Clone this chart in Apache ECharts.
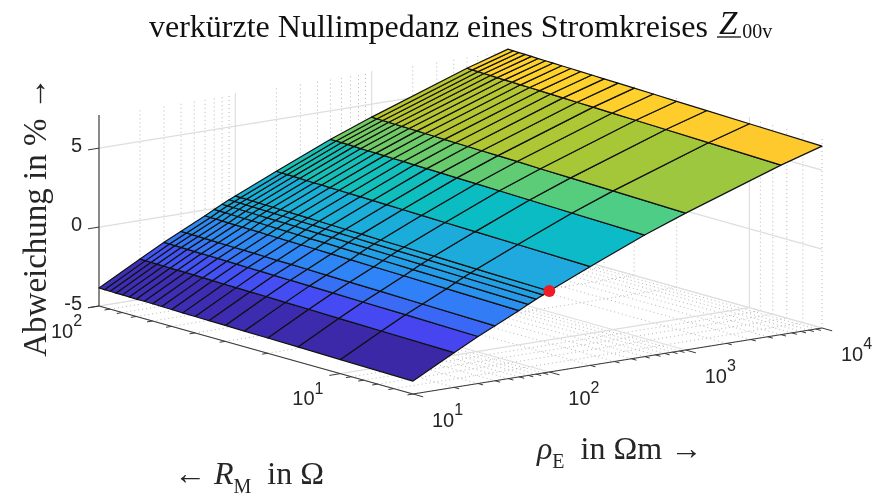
<!DOCTYPE html>
<html><head><meta charset="utf-8">
<style>html,body{margin:0;padding:0;background:#fff}#c{width:879px;height:495px}</style>
<script src="https://cdn.jsdelivr.net/npm/echarts@6/dist/echarts.min.js"></script>
</head><body><div id="c"></div>
<script>
// ---- data ----
const rhoValues = [10,20,30,40,60,70,80,90,100,200,500,1000,5000,10000];
const rmValues = [5,10,15,20,25,30,35,40,45,50,55,60,65,70,75,80,85,90,95,100];
const zTable = [
 [-4.18,-4.11,-4.06,-4.03,-4.01,-3.99,-3.97,-3.96,-3.95,-3.93,-3.92,-3.91,-3.90,-3.90,-3.89,-3.88,-3.88,-3.87,-3.87,-3.86],
 [-2.80,-2.72,-2.67,-2.63,-2.61,-2.58,-2.57,-2.55,-2.54,-2.52,-2.51,-2.50,-2.49,-2.48,-2.48,-2.47,-2.46,-2.45,-2.45,-2.44],
 [-2.02,-1.93,-1.88,-1.84,-1.81,-1.79,-1.77,-1.75,-1.74,-1.72,-1.71,-1.70,-1.68,-1.68,-1.67,-1.66,-1.65,-1.64,-1.64,-1.63],
 [-1.52,-1.43,-1.37,-1.33,-1.30,-1.27,-1.25,-1.24,-1.22,-1.20,-1.19,-1.18,-1.17,-1.16,-1.15,-1.14,-1.13,-1.12,-1.12,-1.11],
 [-0.80,-0.70,-0.64,-0.60,-0.57,-0.54,-0.52,-0.50,-0.49,-0.47,-0.46,-0.44,-0.43,-0.42,-0.41,-0.40,-0.39,-0.38,-0.38,-0.37],
 [-0.50,-0.40,-0.34,-0.30,-0.26,-0.24,-0.21,-0.20,-0.18,-0.16,-0.15,-0.13,-0.12,-0.11,-0.10,-0.09,-0.08,-0.07,-0.07,-0.06],
 [-0.25,-0.15,-0.09,-0.05,-0.01,0.01,0.04,0.05,0.07,0.09,0.10,0.12,0.13,0.14,0.15,0.16,0.17,0.18,0.18,0.19],
 [-0.05,0.05,0.12,0.16,0.19,0.22,0.24,0.26,0.28,0.30,0.31,0.32,0.34,0.35,0.36,0.37,0.38,0.39,0.39,0.40],
 [0.13,0.23,0.30,0.34,0.37,0.40,0.42,0.44,0.46,0.48,0.49,0.50,0.52,0.53,0.54,0.55,0.56,0.57,0.57,0.58],
 [1.26,1.37,1.43,1.47,1.51,1.54,1.56,1.58,1.60,1.61,1.63,1.64,1.66,1.66,1.67,1.69,1.70,1.71,1.71,1.72],
 [2.70,2.81,2.88,2.93,2.96,2.99,3.02,3.04,3.06,3.08,3.09,3.11,3.12,3.13,3.14,3.16,3.17,3.18,3.18,3.19],
 [3.67,3.79,3.86,3.90,3.95,3.98,4.00,4.02,4.04,4.06,4.08,4.09,4.11,4.12,4.13,4.14,4.15,4.16,4.17,4.18],
 [5.74,5.87,5.95,6.00,6.04,6.08,6.10,6.13,6.15,6.17,6.19,6.20,6.22,6.23,6.24,6.26,6.27,6.28,6.29,6.30],
 [6.52,6.65,6.73,6.78,6.83,6.86,6.89,6.91,6.94,6.96,6.98,6.99,7.01,7.02,7.03,7.05,7.06,7.07,7.08,7.09]
];
const markerPoint = [100, 5, 0.13];
const rhoMajorTicks = [10,100,1000,10000];
const rhoMinorTicks = [20,30,40,50,60,70,80,90,200,300,400,500,600,700,800,900,2000,3000,4000,5000,6000,7000,8000,9000];
const rmMajorTicks = [10,100];
const rmMinorTicks = [5,6,7,8,9,20,30,40,50,60,70,80,90];
const zTicks = [-5,0,5];
const rhoRange = [10,10000], rmRange = [5,100], zRange = [-5,7.1];
const colorRange = [-4.18,7.09];
const parulaPos = [0,0.125,0.25,0.38,0.5,0.61,0.7,0.75,0.88,0.93,1];
const parulaCol = ['#3B28A6','#4746F2','#2F84F7','#1FA9DF','#0ABDC3','#4DCD85','#9FC73C','#BFC62B','#FEC92C','#FFD42A','#F9FB15'];

// ---- oblique view of the box (orthographic camera) ----
const VIEW = {origin:[413,394], u:[409,-66], v:[-314,-88], w:[0,-191]};
const GW = 879, GH = 495;
function project(api, rho, rm, z){
  const p = api.coord([rho, rm]);
  const u = p[0]/GW, v = (GH-p[1])/GH;
  const w = echarts.number.linearMap(z, zRange, [0,1], false);
  return [VIEW.origin[0]+u*VIEW.u[0]+v*VIEW.v[0]+w*VIEW.w[0],
          VIEW.origin[1]+u*VIEW.u[1]+v*VIEW.v[1]+w*VIEW.w[1]];
}
function parula(z){
  const t = Math.max(0,Math.min(1,(z-colorRange[0])/(colorRange[1]-colorRange[0])));
  let i = 0;
  while(i<parulaPos.length-2 && t>parulaPos[i+1]) i++;
  return echarts.color.lerp((t-parulaPos[i])/(parulaPos[i+1]-parulaPos[i]),[parulaCol[i],parulaCol[i+1]]);
}
const [rhoLo,rhoHi]=rhoRange,[rmLo,rmHi]=rmRange,[zLo,zHi]=zRange;

// segments: [rho1,rm1,z1,rho2,rm2,z2]
const majorSegs=[], minorSegs=[];
rhoMajorTicks.forEach(r=>{ majorSegs.push([r,rmLo,zLo,r,rmHi,zLo]); majorSegs.push([r,rmHi,zLo,r,rmHi,zHi]); });
rmMajorTicks.forEach(m=>{ majorSegs.push([rhoLo,m,zLo,rhoHi,m,zLo]); majorSegs.push([rhoHi,m,zLo,rhoHi,m,zHi]); });
zTicks.forEach(z=>{ majorSegs.push([rhoLo,rmHi,z,rhoHi,rmHi,z]); majorSegs.push([rhoHi,rmHi,z,rhoHi,rmLo,z]); });
rhoMinorTicks.forEach(r=>{ minorSegs.push([r,rmLo,zLo,r,rmHi,zLo]); minorSegs.push([r,rmHi,zLo,r,rmHi,zHi]); });
rmMinorTicks.forEach(m=>{ minorSegs.push([rhoLo,m,zLo,rhoHi,m,zLo]); minorSegs.push([rhoHi,m,zLo,rhoHi,m,zHi]); });
const axisSegs=[[rhoLo,rmLo,zLo,rhoHi,rmLo,zLo],[rhoLo,rmLo,zLo,rhoLo,rmHi,zLo],[rhoLo,rmHi,zLo,rhoLo,rmHi,zHi]];

const cells=[];
for(let i=0;i<rhoValues.length-1;i++)for(let j=0;j<rmValues.length-1;j++){
  cells.push([rhoValues[i],rmValues[j],rhoValues[i+1],rmValues[j+1],zTable[i][j],zTable[i+1][j],zTable[i+1][j+1],zTable[i][j+1]]);
}
function segSeries(name,data,style,z){
  return {name,type:'custom',coordinateSystem:'cartesian2d',clip:false,silent:true,z,data,encode:{x:0,y:1},
    renderItem(p,api){
      const a=project(api,api.value(0),api.value(1),api.value(2));
      const b=project(api,api.value(3),api.value(4),api.value(5));
      return {type:'line',shape:{x1:a[0],y1:a[1],x2:b[0],y2:b[1]},style};
    }};
}
const TICK=0.027;
const tickData=[];
rhoMajorTicks.forEach(r=>tickData.push([r,rmLo,zLo,0,1]));
rhoMinorTicks.forEach(r=>tickData.push([r,rmLo,zLo,0,.5]));
rmMajorTicks.forEach(m=>tickData.push([rhoLo,m,zLo,1,1]));
rmMinorTicks.forEach(m=>tickData.push([rhoLo,m,zLo,1,.5]));
zTicks.forEach(z=>tickData.push([rhoLo,rmHi,z,1,1]));

const texCol='#262626';
function labelRich(){return {b:{fontSize:20,lineHeight:28,verticalAlign:'bottom',fill:texCol,fontFamily:'"Liberation Sans"'},
  s:{fontSize:16,lineHeight:16,verticalAlign:'top',fill:texCol,fontFamily:'"Liberation Sans"'}};}
const expo=v=>Math.round(Math.log10(v));
const labelData=[];
rhoMajorTicks.forEach(r=>labelData.push([r,rmLo,zLo,19,9,'{b|10}{s|'+expo(r)+'}']));
rmMajorTicks.forEach(m=>labelData.push([rhoLo,m,zLo,-48,8,'{b|10}{s|'+expo(m)+'}']));
const SERIF='"Liberation Serif"';
const mathRich=(size,sub,col)=>({
  n:{fontSize:size,lineHeight:size+6,verticalAlign:'top',fontFamily:SERIF,fill:col},
  i:{fontSize:size,lineHeight:size+6,verticalAlign:'top',fontStyle:'italic',fontFamily:SERIF,fill:col},
  s:{fontSize:sub,lineHeight:sub,verticalAlign:'bottom',fontFamily:SERIF,fill:col}});
const titleRich=mathRich(32,20,'#111');
titleRich.i={fontSize:33,lineHeight:38,verticalAlign:'top',fontStyle:'italic',fontFamily:SERIF,fill:'#111',padding:[4,5,0,3]};
titleRich.n.lineHeight=38; titleRich.n.padding=[8,0,0,0];

const option={
  animation:false,backgroundColor:'#fff',
  grid:{left:0,top:0,width:GW,height:GH},
  xAxis:{type:'log',min:rhoLo,max:rhoHi,show:false},
  yAxis:{type:'log',min:rmLo,max:rmHi,show:false},
  series:[
    segSeries('minor grid',minorSegs,{stroke:'#b8b8b8',lineWidth:1,lineDash:[1,3],fill:null},1),
    segSeries('major grid',majorSegs,{stroke:'#dedede',lineWidth:1.2,fill:null},2),
    segSeries('axes',axisSegs,{stroke:'#3a3a3a',lineWidth:1.1,fill:null},3),
    {name:'ticks',type:'custom',coordinateSystem:'cartesian2d',clip:false,silent:true,z:3,data:tickData,encode:{x:0,y:1},
     renderItem(p,api){
       const a=project(api,api.value(0),api.value(1),api.value(2));
       const k=api.value(4)*TICK;
       const d=api.value(3)===0?[-VIEW.v[0]*k*1.2,-VIEW.v[1]*k*1.2]:[-VIEW.u[0]*k,-VIEW.u[1]*k];
       return {type:'line',shape:{x1:a[0],y1:a[1],x2:a[0]+d[0],y2:a[1]+d[1]},style:{stroke:'#3a3a3a',lineWidth:1}};
     }},
    {name:'surface',type:'custom',coordinateSystem:'cartesian2d',clip:false,silent:true,z:5,data:cells,encode:{x:0,y:1},
     renderItem(p,api){
       const r0=api.value(0),m0=api.value(1),r1=api.value(2),m1=api.value(3);
       const z00=api.value(4);
       const pts=[project(api,r0,m0,z00),project(api,r1,m0,api.value(5)),project(api,r1,m1,api.value(6)),project(api,r0,m1,api.value(7))];
       return {type:'polygon',shape:{points:pts},style:{fill:parula(z00),stroke:'#111',lineWidth:1.2,lineJoin:'round'}};
     }},
    {name:'Punkt',type:'custom',coordinateSystem:'cartesian2d',clip:false,silent:true,z:6,data:[markerPoint],encode:{x:0,y:1},
     renderItem(p,api){
       const a=project(api,api.value(0),api.value(1),api.value(2));
       return {type:'circle',shape:{cx:a[0],cy:a[1],r:6},style:{fill:'#EE1C25'}};
     }},
    {name:'log labels',type:'custom',coordinateSystem:'cartesian2d',clip:false,silent:true,z:7,data:labelData.map(d=>d.slice(0,5)),encode:{x:0,y:1},
     renderItem(p,api){
       const a=project(api,api.value(0),api.value(1),api.value(2));
       return {type:'text',x:a[0]+api.value(3),y:a[1]+api.value(4),style:{text:labelData[p.dataIndex][5],rich:labelRich(),textAlign:'left',textVerticalAlign:'top'}};
     }},
    {name:'z labels',type:'custom',coordinateSystem:'cartesian2d',clip:false,silent:true,z:7,data:zTicks.map(z=>[rhoLo,rmHi,z]),encode:{x:0,y:1},
     renderItem(p,api){
       const a=project(api,api.value(0),api.value(1),api.value(2));
       return {type:'text',x:82,y:a[1]-2,style:{text:String(api.value(2)),font:'20px "Liberation Sans"',fill:texCol,textAlign:'right',textVerticalAlign:'middle'}};
     }}
  ],
  graphic:[
    {type:'text',x:149,y:24,z:20,style:{text:'{n|verkürzte Nullimpedanz eines Stromkreises }{i|Z}{s|00v}',textAlign:'left',textVerticalAlign:'middle',rich:titleRich}},
    {type:'text',x:37,y:217,rotation:Math.PI/2,z:20,style:{text:'Abweichung in % →',textAlign:'center',textVerticalAlign:'middle',font:'33px "Liberation Serif"',fill:texCol}},
    {type:'text',x:537,y:454,z:20,style:{text:'{i|ρ}{s|E}{n|  in Ωm →}',textAlign:'left',textVerticalAlign:'middle',rich:mathRich(32,20,texCol)}},
    {type:'text',x:174,y:479,z:20,style:{text:'{n|← }{i|R}{s|M}{n|  in Ω}',textAlign:'left',textVerticalAlign:'middle',rich:mathRich(32,20,texCol)}},
    {type:'line',z:20,shape:{x1:717,y1:37,x2:741,y2:37},style:{stroke:'#111',lineWidth:1.3}}
  ]
};
echarts.init(document.getElementById('c'),null,{renderer:'canvas'}).setOption(option);
</script></body></html>
